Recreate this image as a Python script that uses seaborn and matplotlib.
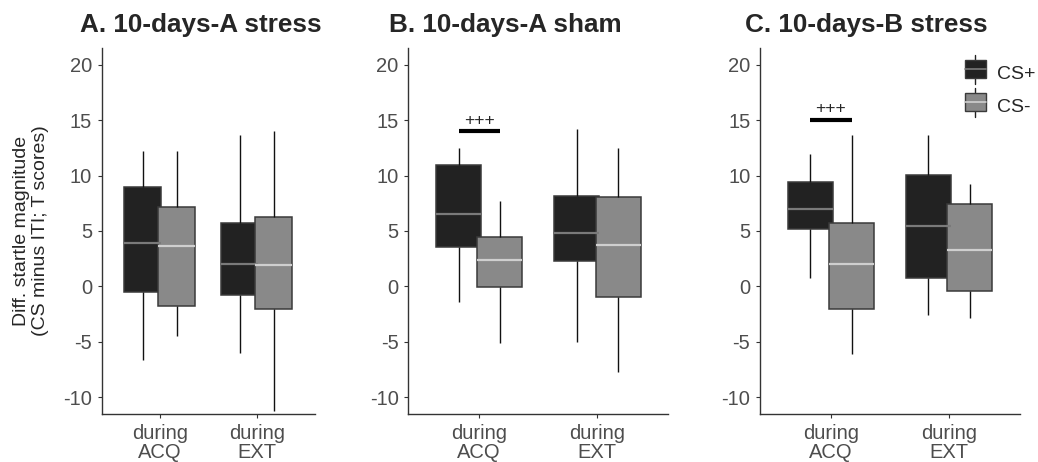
import numpy as np
import pandas as pd
import seaborn as sns
import matplotlib.pyplot as plt
from matplotlib.patches import Rectangle
from matplotlib.lines import Line2D
from matplotlib.legend_handler import HandlerBase

# box stats per group: [lower whisker, Q1, median, Q3, upper whisker]
phases = ["during\nACQ", "during\nEXT"]
stimuli = ["CS+", "CS-"]
titles = ["A. 10-days-A stress", "B. 10-days-A sham", "C. 10-days-B stress"]

a_acq_csp = [-6.67, -0.52, 3.92, 8.99, 12.23]
a_acq_csm = [-4.48, -1.72, 3.68, 7.19, 12.2]
a_ext_csp = [-6.01, -0.76, 2.0, 5.69, 13.64]
a_ext_csm = [-11.2, -1.99, 1.94, 6.29, 14.06]

b_acq_csp = [-1.36, 3.56, 6.56, 10.91, 12.44]
b_acq_csm = [-5.11, -0.07, 2.39, 4.43, 7.73]
b_ext_csp = [-4.99, 2.3, 4.79, 8.12, 14.24]
b_ext_csm = [-7.75, -0.97, 3.77, 8.03, 12.44]

c_acq_csp = [0.74, 5.21, 6.95, 9.44, 11.96]
c_acq_csm = [-6.13, -2.05, 2.0, 5.69, 13.64]
c_ext_csp = [-2.59, 0.74, 5.45, 10.04, 13.7]
c_ext_csm = [-2.86, -0.4, 3.32, 7.4, 9.26]

panels = [
    [a_acq_csp, a_acq_csm, a_ext_csp, a_ext_csm],
    [b_acq_csp, b_acq_csm, b_ext_csp, b_ext_csm],
    [c_acq_csp, c_acq_csm, c_ext_csp, c_ext_csm],
]

# significance annotation (panel index, bar height)
sig_panels = [1, 2]
sig_heights = [14.0, 15.05]

fill_colors = {"CS+": "#222222", "CS-": "#898989"}
median_colors = ["#7a7a7a", "#cfcfcf"]
edge_color = "#3a3a3a"


def panel_frame(stats):
    rows = []
    i = 0
    for ph in phases:
        for st in stimuli:
            for v in stats[i]:
                rows.append({"phase": ph, "stim": st, "value": v})
            i += 1
    return pd.DataFrame(rows)


class BoxHandler(HandlerBase):
    def create_artists(self, legend, orig, xd, yd, w, h, fs, trans):
        fc = orig.get_facecolor()
        mc = orig.get_label_median
        r = Rectangle((xd, yd - h * 0.05), w, h * 1.1, facecolor=fc,
                      edgecolor=edge_color, lw=1.0, transform=trans)
        wl = Line2D([xd + w / 2] * 2, [yd - h * 0.4, yd + h * 1.4],
                    color="#222222", lw=1.0, transform=trans)
        ml = Line2D([xd, xd + w], [yd + h / 2] * 2, color=mc, lw=1.2, transform=trans)
        return [wl, r, ml]


sns.set_style("white")
plt.rcParams["font.family"] = ["Liberation Sans", "DejaVu Sans"]
plt.rcParams["axes.unicode_minus"] = False

fig = plt.figure(figsize=(10.38, 4.62), dpi=100)
ax_lefts = [101.7, 408.3, 760.0]
ax_widths = [213.3, 260.0, 260.0]
title_x = [80, 389, 745]

for k, stats in enumerate(panels):
    ax = fig.add_axes([ax_lefts[k] / 1038, (462 - 414) / 462,
                       ax_widths[k] / 1038, 366 / 462])
    df = panel_frame(stats)
    sns.boxplot(data=df, x="phase", y="value", hue="stim", order=phases,
                hue_order=stimuli, palette=fill_colors, saturation=1,
                width=0.7, gap=-0.09, whis=np.inf, showcaps=False,
                linecolor=edge_color, linewidth=1.1, legend=False,
                whiskerprops={"color": "#111111", "linewidth": 1.0},
                medianprops={"linewidth": 1.6}, ax=ax)
    for cont, mc in zip(ax.containers, median_colors):
        for m in cont.medians:
            m.set_color(mc)
    ax.set_xlim(-0.6, 1.6)
    ax.set_ylim(-11.5, 21.5)
    ax.set_yticks([-10, -5, 0, 5, 10, 15, 20])
    ax.set_xlabel("")
    ax.set_ylabel("")
    for s in ["top", "right"]:
        ax.spines[s].set_visible(False)
    for s in ["left", "bottom"]:
        ax.spines[s].set_color("#333333")
        ax.spines[s].set_linewidth(1.0)
    ax.tick_params(axis="both", labelsize=14.5, labelcolor="#4d4d4d", color="#333333",
                   length=3, width=0.8, pad=4, left=True, bottom=True)
    ax.tick_params(axis="x", pad=4.5)
    for lab in ax.get_xticklabels():
        lab.set_linespacing(0.95)
    fig.text(title_x[k] / 1038, 1 - 31.7 / 462, titles[k], fontsize=18.8,
             fontweight="bold", ha="left", va="baseline")

    if k in sig_panels:
        h = sig_heights[sig_panels.index(k)]
        ax.plot([-0.175, 0.175], [h, h], color="black", lw=3, solid_capstyle="butt")
        ax.text(0, h + 0.3, "+++", ha="center", va="bottom", fontsize=12.5)

    if k == 0:
        ax.set_ylabel("Diff. startle magnitude\n(CS minus ITI; T scores)",
                      fontsize=14, labelpad=10)
    if k == 2:
        handles = []
        for st, mc in zip(stimuli, median_colors):
            p = Rectangle((0, 0), 1, 1, facecolor=fill_colors[st])
            p.get_label_median = mc
            handles.append(p)
        ax.legend(handles, stimuli, handler_map={Rectangle: BoxHandler()},
                  loc="upper left", bbox_to_anchor=(965 / 1038, 1 - 64 / 462),
                  bbox_transform=fig.transFigure, frameon=False,
                  fontsize=14, handlelength=1.07, handleheight=0.9,
                  labelspacing=0.72, handletextpad=0.55, borderaxespad=0,
                  borderpad=0)

fig.savefig("out.png", dpi=100)
